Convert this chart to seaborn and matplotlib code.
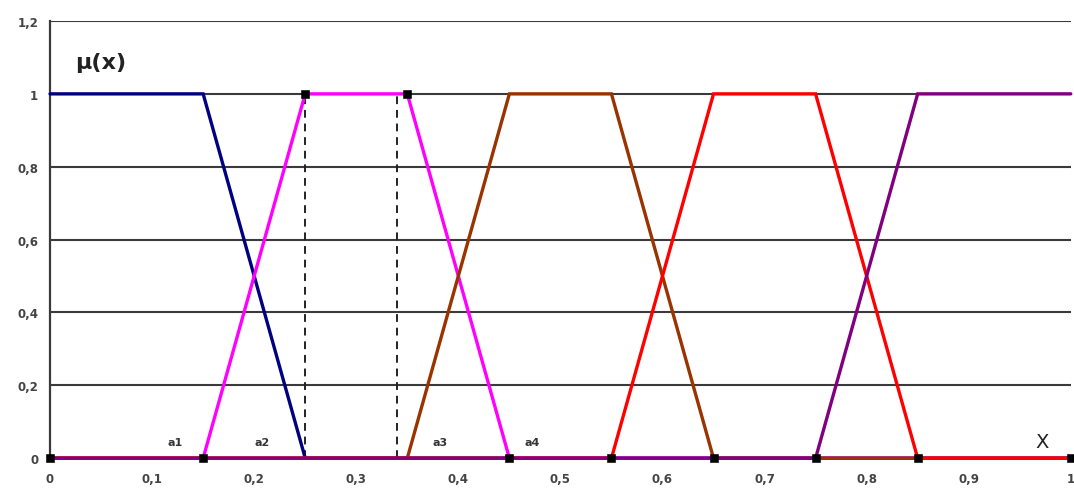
import pandas as pd
import seaborn as sns
import matplotlib.pyplot as plt
from matplotlib.ticker import FuncFormatter

# breakpoints of the membership functions
x_pts = [0, 0.15, 0.25, 0.35, 0.45, 0.55, 0.65, 0.75, 0.85, 1.0]
mu_navy = [1, 1, 0, 0, 0, 0, 0, 0, 0, 0]
mu_magenta = [0, 0, 1, 1, 0, 0, 0, 0, 0, 0]
mu_brown = [0, 0, 0, 0, 1, 1, 0, 0, 0, 0]
mu_red = [0, 0, 0, 0, 0, 0, 1, 1, 0, 0]
mu_purple = [0, 0, 0, 0, 0, 0, 0, 0, 1, 1]

series_names = ["navy", "magenta", "brown", "red", "purple"]
series_vals = [mu_navy, mu_magenta, mu_brown, mu_red, mu_purple]
palette = {"navy": "#000080", "magenta": "#FF00FF", "brown": "#993300",
           "red": "#FF0000", "purple": "#800080"}

# black square markers
mark_x = [0, 0.15, 0.25, 0.35, 0.45, 0.55, 0.65, 0.75, 0.85, 1.0]
mark_y = [0, 0, 1, 1, 0, 0, 0, 0, 0, 0]

# dashed verticals
dash_x = [0.25, 0.34]

# point labels
lab_text = ["a1", "a2", "a3", "a4"]
lab_x = [0.115, 0.2, 0.375, 0.465]
lab_y = [0.035, 0.035, 0.035, 0.035]

frames = []
for name, vals in zip(series_names, series_vals):
    frames.append(pd.DataFrame({"x": x_pts, "mu": vals, "set": name}))
df = pd.concat(frames, ignore_index=True)

sns.set_style("white")
fig = plt.figure(figsize=(10.74, 4.89), dpi=100)
ax = fig.add_axes([0.0466, 0.061, 0.9504, 0.894])

for name in series_names:
    sns.lineplot(data=df[df["set"] == name], x="x", y="mu", color=palette[name],
                 lw=2.4, ax=ax, zorder=3, solid_joinstyle="miter", clip_on=False)

for dx in dash_x:
    ax.plot([dx, dx], [0, 1], ls=(0, (4, 3)), color="#222222", lw=1.4, zorder=2)

sns.scatterplot(x=mark_x, y=mark_y, marker="s", s=28, color="black",
                edgecolor="black", ax=ax, zorder=5, clip_on=False)

for t, lx, ly in zip(lab_text, lab_x, lab_y):
    ax.text(lx, ly, t, fontsize=8, color="#333333", fontweight="bold")

ax.text(0.025, 1.07, "μ(x)", fontsize=16, fontweight="bold", color="#222222")
ax.text(0.965, 0.03, "X", fontsize=14, color="#222222")

ax.set_xlim(0, 1)
ax.set_ylim(0, 1.2)
ax.set_xticks([i / 10 for i in range(11)])
ax.set_yticks([0, 0.2, 0.4, 0.6, 0.8, 1.0, 1.2])
fmt = FuncFormatter(lambda v, p: ("%g" % round(v, 1)).replace(".", ","))
ax.xaxis.set_major_formatter(fmt)
ax.yaxis.set_major_formatter(fmt)
ax.tick_params(axis="both", labelsize=8.5, colors="#444444", length=4, width=1.2)
ax.tick_params(axis="x", direction="inout", pad=8)
ax.tick_params(axis="y", direction="out", length=5)
for lab in ax.get_xticklabels() + ax.get_yticklabels():
    lab.set_fontweight("bold")

ax.yaxis.grid(True, color="#3a3a3a", lw=1.5)
ax.set_axisbelow(True)
for s in ["top", "right", "bottom"]:
    ax.spines[s].set_visible(False)
ax.spines["left"].set_color("#3a3a3a")
ax.spines["left"].set_linewidth(1.6)
ax.set_xlabel("")
ax.set_ylabel("")

fig.savefig("out.png", dpi=100)
